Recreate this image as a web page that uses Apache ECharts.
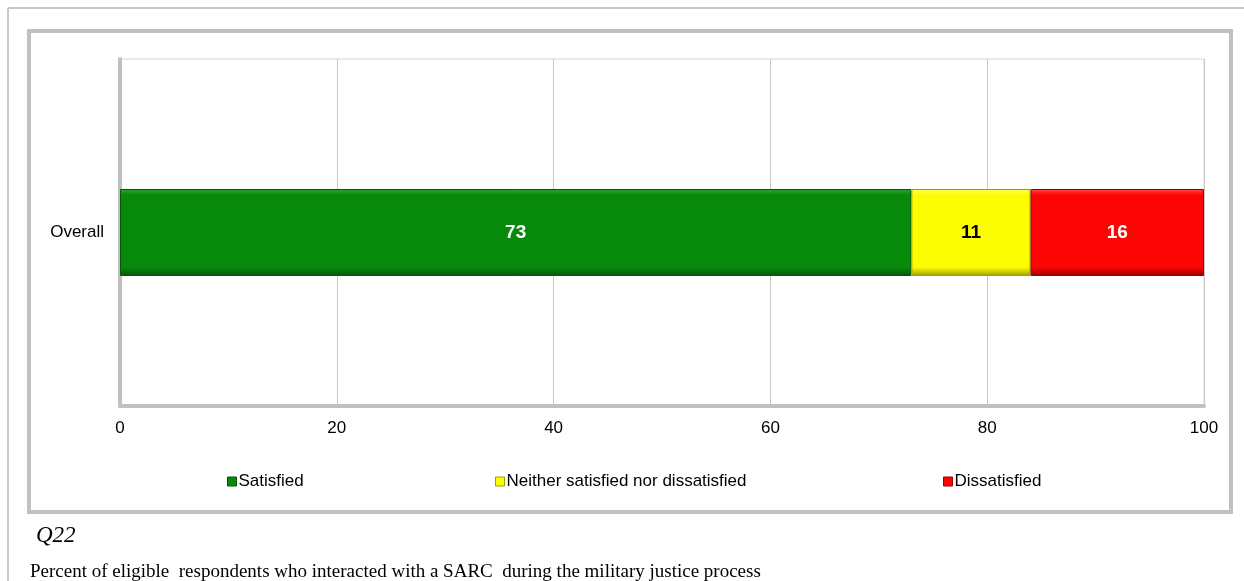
<!DOCTYPE html>
<html>
<head>
<meta charset="utf-8">
<script src="https://cdn.jsdelivr.net/npm/echarts@6/dist/echarts.min.js"></script>
<style>
html,body{margin:0;padding:0;background:#fff;}
#chart{width:1244px;height:581px;}
</style>
</head>
<body>
<div id="chart"></div>
<script>
const categories = ['Overall'];
const seriesNames = ['Satisfied', 'Neither satisfied nor dissatisfied', 'Dissatisfied'];
const satisfied = [73];
const neither = [11];
const dissatisfied = [16];
const xTicks = { min: 0, max: 100, interval: 20 };
const questionLabel = 'Q22';
const captionText = 'Percent of eligible  respondents who interacted with a SARC  during the military justice process';

const colors = ['#078a09', '#fcfc02', '#fd0505'];
const lightC = ['#2aa82c', '#ffff55', '#ff4a4a'];
const darkC = ['#04560a', '#9e9e00', '#9a0000'];
const labelColors = ['#ffffff', '#000000', '#ffffff'];
const values = [satisfied, neither, dissatisfied];

function grad(i) {
  return new echarts.graphic.LinearGradient(0, 0, 0, 1, [
    { offset: 0, color: lightC[i] },
    { offset: 0.07, color: colors[i] },
    { offset: 0.9, color: colors[i] },
    { offset: 1, color: darkC[i] }
  ]);
}

const chart = echarts.init(document.getElementById('chart'), null, { renderer: 'canvas' });

const series = seriesNames.map((name, i) => ({
  name: name,
  type: 'bar',
  stack: 'total',
  barWidth: 87,
  data: values[i],
  itemStyle: { color: grad(i), borderColor: darkC[i], borderWidth: 1 },
  label: {
    show: true,
    position: 'inside',
    color: labelColors[i],
    fontFamily: 'Liberation Sans, Arial, sans-serif',
    fontWeight: 'bold',
    fontSize: 19
  },
  emphasis: { disabled: true }
}));

const legendLefts = [227, 495, 943];
const legends = seriesNames.map((name, i) => ({
  data: [{ name: name, itemStyle: { color: colors[i], borderColor: darkC[i], borderWidth: 1 } }],
  left: legendLefts[i],
  top: 473,
  icon: 'rect',
  itemWidth: 9,
  itemHeight: 9,
  itemGap: 0,
  selectedMode: false,
  padding: 0,
  textStyle: { fontFamily: 'Liberation Sans, Arial, sans-serif', fontSize: 17, color: '#000', padding: [0, 0, 0, -3] }
}));

chart.setOption({
  animation: false,
  backgroundColor: '#ffffff',
  grid: {
    left: 120, right: 40, top: 59, bottom: 175,
    show: true, borderColor: '#d4d4d4', borderWidth: 1, backgroundColor: 'transparent'
  },
  legend: legends,
  xAxis: {
    type: 'value',
    min: xTicks.min, max: xTicks.max, interval: xTicks.interval,
    axisLine: { show: true, lineStyle: { color: '#c0c0c0', width: 4 } },
    axisTick: { show: false },
    splitLine: { show: true, lineStyle: { color: '#c8c8c8', width: 1 } },
    axisLabel: { color: '#000', fontSize: 17, fontFamily: 'Liberation Sans, Arial, sans-serif', margin: 14 }
  },
  yAxis: {
    type: 'category',
    data: categories,
    axisLine: { show: true, lineStyle: { color: '#c0c0c0', width: 4 } },
    axisTick: { show: false },
    axisLabel: { color: '#000', fontSize: 17, fontFamily: 'Liberation Sans, Arial, sans-serif', margin: 16 }
  },
  series: series,
  graphic: [
    { type: 'line', shape: { x1: 8, y1: 8, x2: 1244, y2: 8 }, style: { stroke: '#c8c8c8', lineWidth: 2 }, silent: true },
    { type: 'line', shape: { x1: 8, y1: 8, x2: 8, y2: 581 }, style: { stroke: '#c8c8c8', lineWidth: 2 }, silent: true },
    { type: 'rect', shape: { x: 29, y: 31, width: 1202, height: 481 }, style: { fill: 'none', stroke: '#c0c0c0', lineWidth: 4 }, silent: true },
    { type: 'text', left: 36, top: 524, style: { text: questionLabel, font: 'italic 23px "Liberation Serif", "Times New Roman", serif', fill: '#000' }, silent: true },
    { type: 'text', left: 30, top: 563, style: { text: captionText, font: '19px "Liberation Serif", "Times New Roman", serif', fill: '#000' }, silent: true }
  ]
});
</script>
</body>
</html>
